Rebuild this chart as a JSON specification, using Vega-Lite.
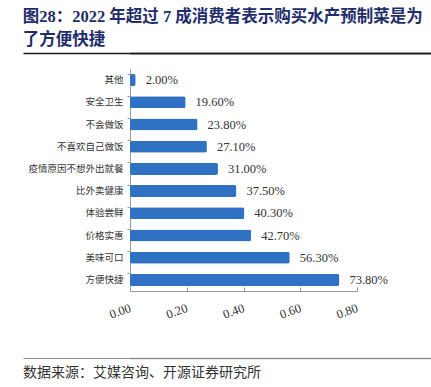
{
  "$schema": "https://vega.github.io/schema/vega-lite/v6.json",
  "padding": {"left": 22, "top": 9, "right": 0, "bottom": 0},
  "background": "white",
  "title": {
    "text": ["图28：2022 年超过 7 成消费者表示购买水产预制菜是为", "了方便快捷"],
    "anchor": "start",
    "font": "Liberation Serif, Noto Sans CJK SC",
    "fontSize": 16.5,
    "fontWeight": "bold",
    "color": "#1F2D6B",
    "lineHeight": 23,
    "offset": 4
  },
  "spacing": 14,
  "columns": 1,
  "config": {"view": {"stroke": null}},
  "concat": [
    {
      "width": 302,
      "height": 1,
      "view": {"stroke": "#1a1a1a", "strokeWidth": 0.6},
      "data": {"values": [{"v": 0}]},
      "mark": {"type": "rule", "opacity": 0},
      "encoding": {
        "x": {
          "field": "v",
          "type": "quantitative",
          "scale": {"domain": [0, 1], "range": [-107, 302]},
          "axis": {
            "orient": "top",
            "title": null,
            "labels": false,
            "ticks": false,
            "grid": false,
            "domain": true,
            "domainColor": "#1a1a1a",
            "domainWidth": 1.5
          }
        }
      }
    },
    {
      "width": 227,
      "height": 222,
      "data": {
        "values": [
          {"item": "其他", "value": 0.02},
          {"item": "安全卫生", "value": 0.196},
          {"item": "不会做饭", "value": 0.238},
          {"item": "不喜欢自己做饭", "value": 0.271},
          {"item": "疫情原因不想外出就餐", "value": 0.31},
          {"item": "比外卖健康", "value": 0.375},
          {"item": "体验尝鲜", "value": 0.403},
          {"item": "价格实惠", "value": 0.427},
          {"item": "美味可口", "value": 0.563},
          {"item": "方便快捷", "value": 0.738}
        ]
      },
      "encoding": {
        "y": {
          "field": "item",
          "type": "nominal",
          "sort": null,
          "scale": {"paddingInner": 0.46, "paddingOuter": 0.23},
          "axis": {
            "title": null,
            "bandPosition": 0,
            "domainColor": "#999",
            "tickColor": "#999",
            "tickSize": 3,
            "labelFont": "Noto Sans CJK SC",
            "labelFontSize": 9.5,
            "labelColor": "#333",
            "labelPadding": 4,
            "minExtent": 107,
            "grid": false
          }
        }
      },
      "layer": [
        {
          "mark": {"type": "bar", "color": "#2F72C4", "cornerRadius": 2},
          "encoding": {
            "x": {
              "field": "value",
              "type": "quantitative",
              "scale": {"domain": [0, 0.8]},
              "axis": {
                "title": null,
                "values": [0, 0.2, 0.4, 0.6, 0.8],
                "format": ".2f",
                "labelAngle": -20,
                "labelAlign": "right",
                "labelBaseline": "middle",
                "labelFont": "Liberation Serif",
                "labelFontSize": 12.5,
                "labelColor": "#333",
                "labelFlush": false,
                "labelOverlap": false,
                "tickSize": -4,
                "labelPadding": 20,
                "domainColor": "#999",
                "tickColor": "#999",
                "grid": false,
                "minExtent": 52
              }
            }
          }
        },
        {
          "mark": {"type": "text", "align": "left", "dx": 10, "font": "Liberation Serif", "fontSize": 12.5, "color": "#333"},
          "encoding": {
            "x": {"field": "value", "type": "quantitative"},
            "text": {"field": "value", "format": ".2%"}
          }
        }
      ]
    },
    {
      "width": 302,
      "height": 1,
      "view": {"stroke": "#8a8a8a", "strokeWidth": 0.4},
      "data": {"values": [{"v": 0}]},
      "mark": {"type": "rule", "opacity": 0},
      "encoding": {
        "x": {
          "field": "v",
          "type": "quantitative",
          "scale": {"domain": [0, 1], "range": [-107, 302]},
          "axis": {
            "orient": "top",
            "title": null,
            "labels": false,
            "ticks": false,
            "grid": false,
            "domain": true,
            "domainColor": "#8a8a8a",
            "domainWidth": 1
          }
        }
      },
      "title": {
        "text": "数据来源：艾媒咨询、开源证券研究所",
        "orient": "bottom",
        "anchor": "start",
        "font": "Noto Sans CJK SC",
        "fontSize": 14,
        "fontWeight": "normal",
        "color": "#333",
        "offset": 7
      }
    }
  ]
}
